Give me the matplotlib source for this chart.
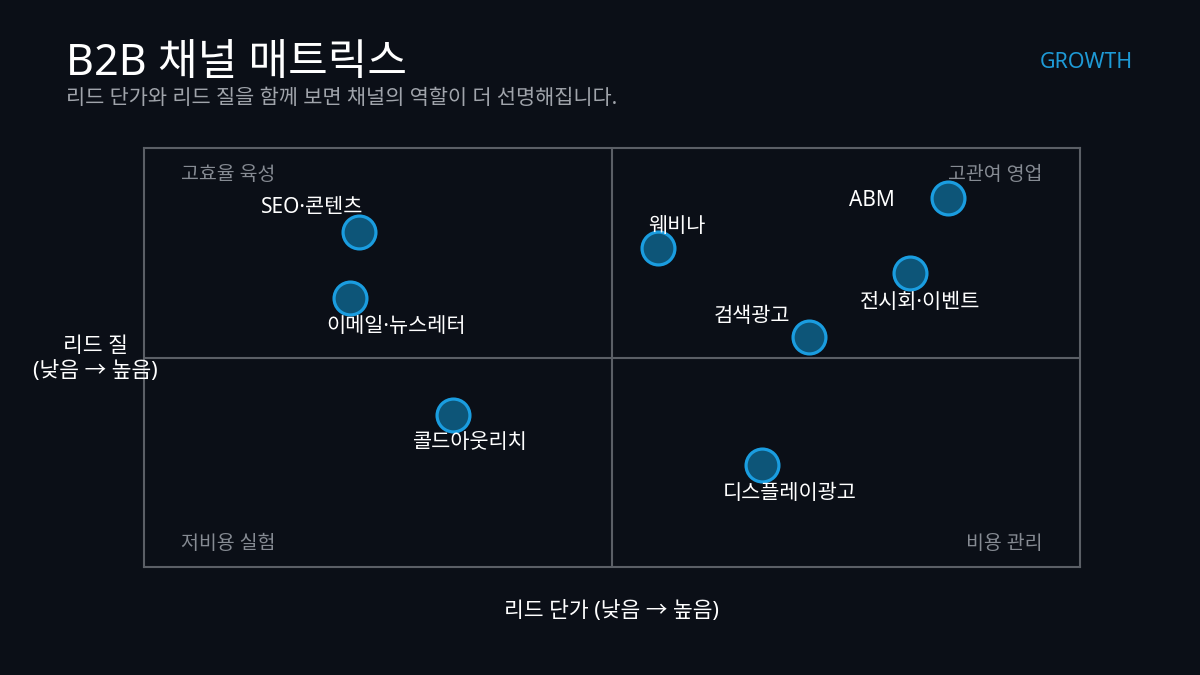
import matplotlib
matplotlib.use("Agg")
import matplotlib.pyplot as plt

plt.rcParams['font.family'] = ['Noto Sans', 'Noto Sans CJK KR', 'DejaVu Sans']

channels = ["SEO·콘텐츠", "이메일·뉴스레터", "콜드아웃리치", "웨비나", "ABM",
            "전시회·이벤트", "검색광고", "디스플레이광고"]
cost = [2.30, 2.20, 3.30, 5.49, 8.59, 8.18, 7.10, 6.60]
quality = [8.00, 6.42, 3.63, 7.61, 8.81, 7.02, 5.49, 2.43]
label_offsets = [(-47, 24), (46, -28), (17, -28), (19, 22), (-53, -3),
                 (10, -30), (-57, 20), (28, -28)]
label_ha = ["center", "center", "center", "center", "right", "center", "center", "center"]

quadrants = ["고효율 육성", "고관여 영업", "저비용 실험", "비용 관리"]

BG = "#0b0f17"
fig = plt.figure(figsize=(12, 6.75), dpi=100, facecolor=BG)
ax = fig.add_axes([144/1200, 1-567/675, (1080-144)/1200, (567-148)/675])
ax.set_facecolor(BG)
ax.set_xlim(0, 10)
ax.set_ylim(0, 10)
ax.set_xticks([])
ax.set_yticks([])
for s in ax.spines.values():
    s.set_color("#5b5f66")
    s.set_linewidth(1.5)
ax.axvline(5, color="#5b5f66", lw=1.5)
ax.axhline(5, color="#5b5f66", lw=1.5)

ax.scatter(cost, quality, s=560, facecolor="#0d5578", edgecolor="#1a9de0",
           linewidth=2.3, zorder=3)
for name, x, y, off, ha in zip(channels, cost, quality, label_offsets, label_ha):
    ax.annotate(name, (x, y), xytext=off, textcoords="offset pixels",
                ha=ha, va="center", color="white", fontsize=15, zorder=4)

qc = "#868b93"
ax.text(0.4, 9.35, quadrants[0], color=qc, fontsize=14, ha="left", va="center")
ax.text(9.6, 9.35, quadrants[1], color=qc, fontsize=14, ha="right", va="center")
ax.text(0.4, 0.55, quadrants[2], color=qc, fontsize=14, ha="left", va="center")
ax.text(9.6, 0.55, quadrants[3], color=qc, fontsize=14, ha="right", va="center")

fig.text(612/1200, 1-611/675, "리드 단가 (낮음 → 높음)", color="white",
         fontsize=15.5, ha="center", va="center")
fig.text(95/1200, 1-359/675, "리드 질\n(낮음 → 높음)", color="white",
         fontsize=15.5, ha="center", va="center", linespacing=1.2)

fig.text(66/1200, 1-64/675, "B2B 채널 매트릭스", color="white",
         fontsize=31, ha="left", va="center")
fig.text(66/1200, 1-98/675, "리드 단가와 리드 질을 함께 보면 채널의 역할이 더 선명해집니다.",
         color="#a0a4ab", fontsize=15, ha="left", va="center")
fig.text(1133/1200, 1-62/675, "GROWTH", color="#1e9ad6", fontsize=15.4,
         ha="right", va="center")

fig.savefig("out.png", dpi=100, facecolor=BG)
